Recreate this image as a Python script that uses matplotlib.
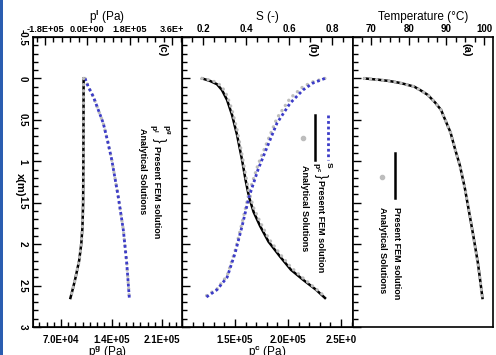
import matplotlib
matplotlib.use('Agg')
import matplotlib.pyplot as plt
from matplotlib.ticker import MultipleLocator, FixedLocator, FixedFormatter
from matplotlib.lines import Line2D
from matplotlib.patches import Rectangle

plt.rcParams['font.family'] = ['Liberation Sans', 'DejaVu Sans']
plt.rcParams['font.weight'] = 'bold'
plt.rcParams['mathtext.fontset'] = 'custom'
plt.rcParams['mathtext.rm'] = 'Liberation Sans:bold'
plt.rcParams['mathtext.it'] = 'Liberation Sans:bold'
plt.rcParams['mathtext.bf'] = 'Liberation Sans:bold'

# ---------------- data ----------------
# shared depth axis
depth_ticks = [-0.5, 0, 0.5, 1, 1.5, 2, 2.5, 3]
depth_tick_labels = ['-0.5', '0', '0.5', '1', '1.5', '2', '2.5', '3']

# panel (c): gas and liquid pressure
x_pg = [0, 0.10, 0.22, 0.38, 0.54, 0.76, 0.98, 1.43, 1.83, 2.23, 2.65]
pg_fem = [1.033e5, 1.078e5, 1.148e5, 1.217e5, 1.286e5, 1.347e5, 1.403e5, 1.494e5, 1.564e5, 1.611e5, 1.647e5]
pg_ana = [1.033e5, 1.078e5, 1.148e5, 1.217e5, 1.286e5, 1.347e5, 1.403e5, 1.494e5, 1.564e5, 1.611e5, 1.647e5]
x_pl = [0, 0.5, 1.0, 1.5, 1.8, 2.0, 2.2, 2.4, 2.52, 2.65]
pl_fem = [-1.6e4, -1.65e4, -1.7e4, -1.8e4, -2.1e4, -2.6e4, -3.5e4, -5.0e4, -6.0e4, -7.2e4]
pl_ana = [-1.6e4, -1.65e4, -1.7e4, -1.8e4, -2.1e4, -2.6e4, -3.5e4, -5.0e4, -6.0e4, -7.2e4]
pg_ticks = [7.0e4, 1.4e5, 2.1e5]
pg_tick_labels = ['7.0E+04', '1.4E+05', '2.1E+05']
pl_ticks = [-1.8e5, 0.0, 1.8e5, 3.6e5]
pl_tick_labels = ['-1.8E+05', '0.0E+00', '1.8E+05', '3.6E+']

# panel (b): capillary pressure and saturation
x_pc = [0, 0.03, 0.07, 0.14, 0.26, 0.44, 0.68, 0.98, 1.22, 1.43, 1.61, 1.78, 1.97, 2.15, 2.31, 2.43, 2.55, 2.65]
pc_fem = [1.189e5, 1.264e5, 1.330e5, 1.377e5, 1.425e5, 1.472e5, 1.519e5, 1.566e5, 1.599e5, 1.632e5,
          1.675e5, 1.736e5, 1.816e5, 1.925e5, 2.028e5, 2.142e5, 2.264e5, 2.349e5]
x_pc_ana = [0, 0.02, 0.05, 0.10, 0.21, 0.38, 0.62, 0.92, 1.16, 1.37, 1.56, 1.73, 1.93, 2.12, 2.28, 2.41, 2.54, 2.64]
pc_ana = [1.189e5, 1.264e5, 1.330e5, 1.377e5, 1.425e5, 1.472e5, 1.519e5, 1.566e5, 1.599e5, 1.632e5,
          1.675e5, 1.736e5, 1.816e5, 1.925e5, 2.028e5, 2.142e5, 2.264e5, 2.355e5]
x_s = [0, 0.055, 0.14, 0.30, 0.54, 0.83, 1.10, 1.43, 1.79, 2.11, 2.40, 2.55, 2.65]
s_fem = [0.767, 0.712, 0.665, 0.605, 0.544, 0.498, 0.456, 0.414, 0.381, 0.349, 0.312, 0.265, 0.209]
x_s_ana = [0, 0.04, 0.10, 0.24, 0.48, 0.77, 1.04, 1.38, 1.75, 2.08, 2.38, 2.54, 2.64]
s_ana = [0.767, 0.712, 0.665, 0.605, 0.544, 0.498, 0.456, 0.414, 0.381, 0.349, 0.312, 0.265, 0.205]
pc_ticks = [1.0e5, 1.5e5, 2.0e5, 2.5e5]
pc_tick_labels = ['', '1.5E+05', '2.0E+05', '2.5E+0']
s_ticks = [0.2, 0.4, 0.6, 0.8]
s_tick_labels = ['0.2', '0.4', '0.6', '0.8']

# panel (a): temperature
x_t = [0, 0.015, 0.03, 0.05, 0.07, 0.1, 0.15, 0.2, 0.29, 0.38, 0.49, 0.65, 0.85, 1.05, 1.32, 1.6, 1.88, 2.23, 2.65]
t_fem = [68.2, 71.8, 74.7, 77.2, 79.1, 81.5, 83.4, 85.1, 87.0, 88.6, 89.6, 91.1, 92.3, 93.6, 94.9, 96.0, 97.1, 98.4, 99.6]
t_ana = [68.2, 71.8, 74.7, 77.2, 79.1, 81.5, 83.4, 85.1, 87.0, 88.6, 89.6, 91.1, 92.3, 93.6, 94.9, 96.0, 97.1, 98.4, 99.6]
t_ticks = [70, 80, 90, 100]
t_tick_labels = ['70', '80', '90', '100']

# ---------------- styles ----------------
BLUE = '#3c3cc8'
GRAY = '#bdbdbd'
FEM_BLUE = dict(color=BLUE, lw=2.0, ls=(0, (1, 1)))
FEM_BLACK = dict(color='black', lw=1.8, ls='-')
ANA = dict(color=GRAY, lw=2.4, ls=(0, (0.05, 1.8)), dash_capstyle='round', solid_capstyle='round')

W, H = 496, 355
fig = plt.figure(figsize=(W / 100, H / 100), dpi=100)


def fx(px):
    return px / W


def fy(py):
    return 1 - py / H


TOP, BOT = 37, 327


def rect(l, r):
    return [fx(l), fy(BOT), (r - l) / W, (BOT - TOP) / H]


def style_depth(ax, labels):
    ax.set_ylim(3, -0.5)
    ax.yaxis.set_major_locator(FixedLocator(depth_ticks))
    ax.yaxis.set_minor_locator(MultipleLocator(0.1))
    if labels:
        ax.yaxis.set_major_formatter(FixedFormatter(depth_tick_labels))
        for t in ax.get_yticklabels():
            t.set_rotation(-90)
            t.set_va('center')
    else:
        ax.tick_params(axis='y', labelleft=False)
    ax.tick_params(axis='y', which='both', direction='in', left=True, right=False,
                   labelsize=7, pad=4)
    ax.tick_params(axis='y', which='major', length=6, width=1)
    ax.tick_params(axis='y', which='minor', length=3.5, width=1)
    for s in ax.spines.values():
        s.set_linewidth(1.2)


def style_x(axis_obj, ax, ticks, labels, minor, where, pad, size=7):
    axis_obj.set_major_locator(FixedLocator(ticks))
    axis_obj.set_major_formatter(FixedFormatter(labels))
    axis_obj.set_minor_locator(MultipleLocator(minor))
    kw = {where: True}
    ax.tick_params(axis='x', which='both', direction='in', labelsize=size, pad=pad, **kw)
    ax.tick_params(axis='x', which='major', length=6, width=1)
    ax.tick_params(axis='x', which='minor', length=3.5, width=1)


# ---- panel (c)
ax_c = fig.add_axes(rect(33, 182))
style_depth(ax_c, True)
ax_c.set_xlim(3.12e4, 2.377e5)
style_x(ax_c.xaxis, ax_c, pg_ticks, pg_tick_labels, 1e4, 'bottom', 6)
ax_c.set_xlabel('p$^g$ (Pa)', fontsize=8.5, labelpad=-1)
ax_ct = ax_c.twiny()
ax_ct.set_xlim(-2.31e5, 4.02e5)
style_x(ax_ct.xaxis, ax_ct, pl_ticks, pl_tick_labels, 3.6e4, 'top', 2, size=6.6)
ax_ct.set_xlabel('p$^l$ (Pa)', fontsize=8.5, labelpad=3)
ax_ct.plot(pl_fem, x_pl, **FEM_BLACK)
ax_ct.plot(pl_ana, x_pl, **ANA)
ax_c.plot(pg_ana, x_pg, **ANA)
ax_c.plot(pg_fem, x_pg, **FEM_BLUE)
ax_c.set_zorder(2)
ax_ct.set_zorder(3)
ax_ct.patch.set_visible(False)

# ---- panel (b)
ax_b = fig.add_axes(rect(182, 353))
style_depth(ax_b, False)
ax_b.set_xlim(1.0e5, 2.613e5)
style_x(ax_b.xaxis, ax_b, pc_ticks, pc_tick_labels, 1e4, 'bottom', 6)
ax_b.set_xlabel('p$^c$ (Pa)', fontsize=8.5, labelpad=-1)
ax_bt = ax_b.twiny()
ax_bt.set_xlim(0.102, 0.898)
style_x(ax_bt.xaxis, ax_bt, s_ticks, s_tick_labels, 0.05, 'top', 2)
ax_bt.set_xlabel('S (-)', fontsize=8.5, labelpad=3)
ax_b.plot(pc_fem, x_pc, **FEM_BLACK)
ax_b.plot(pc_ana, x_pc_ana, **ANA)
ax_bt.plot(s_ana, x_s_ana, **ANA)
ax_bt.plot(s_fem, x_s, **FEM_BLUE)
ax_bt.patch.set_visible(False)

# ---- panel (a)
ax_a = fig.add_axes(rect(353, 493))
style_depth(ax_a, False)
ax_a.set_xlim(65.2, 102.4)
ax_a.xaxis.tick_top()
ax_a.xaxis.set_label_position('top')
style_x(ax_a.xaxis, ax_a, t_ticks, t_tick_labels, 2.5, 'top', 2)
ax_a.tick_params(axis='x', which='both', bottom=False)
ax_a.set_xlabel('Temperature (°C)', fontsize=8.5, labelpad=3)
ax_a.plot(t_fem, x_t, **FEM_BLACK)
ax_a.plot(t_ana, x_t, **ANA)

# ---- depth label
fig.text(fx(20), fy(185), 'x(m)', rotation=-90, ha='center', va='center', fontsize=8)

# ---- panel letters
for px, lab in [(162, '(c)'), (313, '(b)'), (467, '(a)')]:
    fig.text(fx(px), fy(50), lab, rotation=-90, ha='center', va='center', fontsize=8)


# ---- legends (hand drawn, rotated)
def seg(px, y0, y1, style):
    fig.add_artist(Line2D([fx(px), fx(px)], [fy(y0), fy(y1)], transform=fig.transFigure, **style))


def dot(px, py):
    fig.add_artist(Line2D([fx(px)], [fy(py)], transform=fig.transFigure, marker='o',
                          ms=3, mfc=GRAY, mec=GRAY, ls='none'))


def vtext(px, py, s, size=6.5):
    fig.text(fx(px), fy(py), s, rotation=-90, ha='center', va='top', fontsize=size)


# (c)
seg(165, 78, 122, FEM_BLUE)
seg(153, 78, 122, FEM_BLACK)
dot(142, 102)
vtext(165, 124, 'p$^g$', 6)
vtext(153, 124, 'p$^l$', 6)
fig.text(fx(159), fy(140), '}', rotation=-90, ha='center', va='center', fontsize=10, fontweight='normal')
vtext(157, 146, 'Present FEM solution')
vtext(142, 128, 'Analytical Solutions')

# (b)
seg(328, 115, 160, FEM_BLUE)
seg(315, 115, 160, FEM_BLACK)
dot(303, 138)
vtext(328, 162, 'S', 6)
vtext(315, 162, 'p$^c$', 6)
fig.text(fx(321), fy(176), '}', rotation=-90, ha='center', va='center', fontsize=10, fontweight='normal')
vtext(320, 180, 'Present FEM solution')
vtext(305, 165, 'Analytical Solutions')

# (a)
seg(395, 153, 198, FEM_BLACK)
dot(382, 177)
vtext(397, 207, 'Present FEM solution')
vtext(383, 207, 'Analytical Solutions')

# left blue frame edge
fig.add_artist(Rectangle((0, 0), fx(3), 1, transform=fig.transFigure, color='#2a5db0', lw=0))

fig.savefig('out.png', dpi=100)
